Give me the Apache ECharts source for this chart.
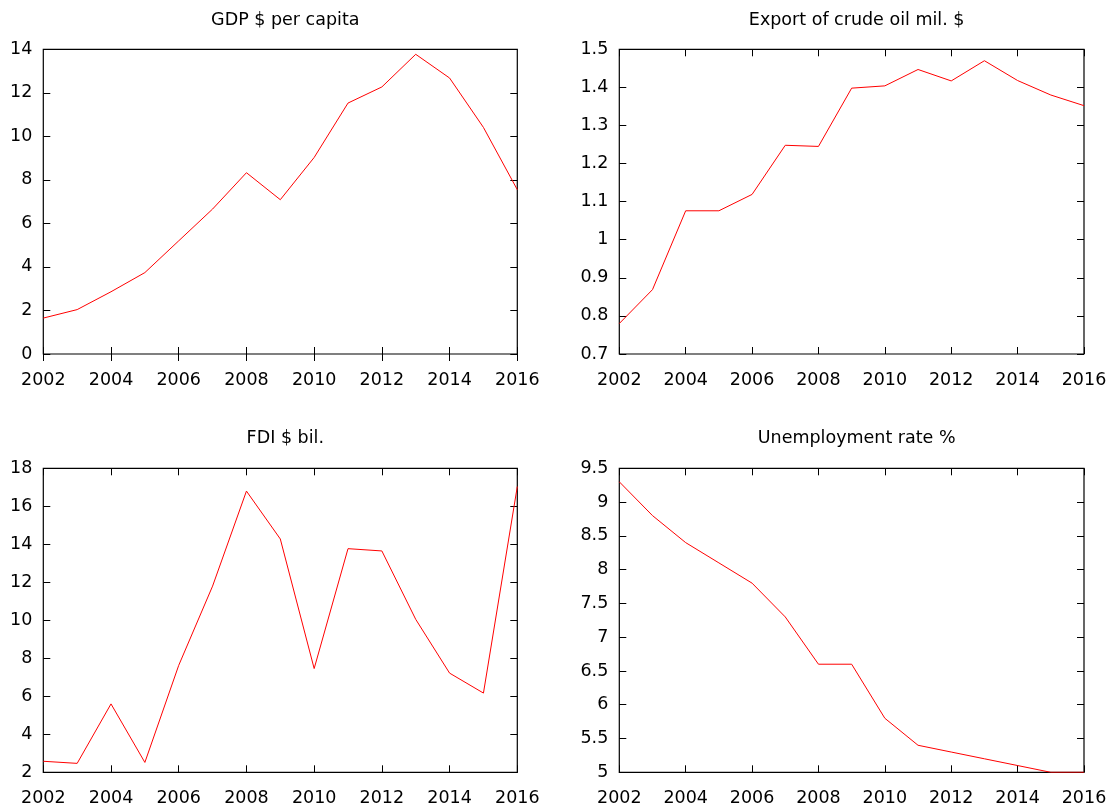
<!DOCTYPE html>
<html>
<head>
<meta charset="utf-8">
<script src="https://cdn.jsdelivr.net/npm/echarts@6/dist/echarts.min.js"></script>
<style>
html,body{margin:0;padding:0;background:#fff;}
#main{width:1119px;height:809px;}
</style>
</head>
<body>
<div id="main"></div>
<script>
var years = [2002,2003,2004,2005,2006,2007,2008,2009,2010,2011,2012,2013,2014,2015,2016];
var titles = ['GDP $ per capita','Export of crude oil mil. $','FDI $ bil.','Unemployment rate %'];
var gdp = [1.65,2.04,2.86,3.74,5.2,6.66,8.33,7.09,9.03,11.53,12.27,13.77,12.68,10.41,7.55];
var oil = [0.78,0.869,1.076,1.076,1.119,1.248,1.245,1.398,1.404,1.447,1.417,1.47,1.418,1.38,1.352];
var fdi = [2.58,2.47,5.6,2.52,7.63,11.8,16.8,14.28,7.46,13.77,13.65,10.05,7.22,6.17,17.04];
var unemp = [9.3,8.8,8.4,8.1,7.8,7.3,6.6,6.6,5.8,5.4,5.3,5.2,5.1,5.0,5.0];
var yMin = [0,0.7,2,5];
var yMax = [14,1.5,18,9.5];
var yInt = [2,0.1,2,0.5];
var seriesValues = [gdp,oil,fdi,unemp];

var FONT = 'DejaVu Sans';
var FS = 17.5;
var grids = [
  {left:43.3, top:49.3, width:474, height:304.7},
  {left:619.3, top:49.3, width:464.7, height:304.7},
  {left:43.3, top:468.3, width:474, height:304},
  {left:619.3, top:468.3, width:464.7, height:304}
];
var titleTop = [6, 6, 424, 424];

var option = {
  backgroundColor:'#fff',
  animation:false,
  title:[], grid:[], xAxis:[], yAxis:[], series:[]
};
for (var i=0;i<4;i++){
  var g = grids[i];
  option.grid.push({left:g.left, top:g.top, width:g.width, height:g.height,
    show:true, borderColor:'#000', borderWidth:1.2, backgroundColor:'transparent'});
  option.title.push({text:titles[i], left:g.left+g.width/2, top:titleTop[i], textAlign:'center',
    textStyle:{fontFamily:FONT, fontSize:FS, fontWeight:'normal', color:'#000'}});
  var tickStyle = {show:true, inside:true, length:7, lineStyle:{color:'#000', width:1}};
  option.xAxis.push({type:'value', gridIndex:i, position:'bottom', min:2002, max:2016, interval:2,
    axisLine:{show:false}, axisTick:tickStyle, splitLine:{show:false},
    axisLabel:{fontFamily:FONT, fontSize:FS, color:'#000', margin:17, formatter:function(v){return String(v);}}});
  option.xAxis.push({type:'value', gridIndex:i, position:'top', min:2002, max:2016, interval:2,
    axisLine:{show:false}, axisTick:tickStyle, splitLine:{show:false}, axisLabel:{show:false}});
  option.yAxis.push({type:'value', gridIndex:i, position:'left', min:yMin[i], max:yMax[i], interval:yInt[i],
    axisLine:{show:false}, axisTick:tickStyle, splitLine:{show:false},
    axisLabel:{fontFamily:FONT, fontSize:FS, color:'#000', margin:11}});
  option.yAxis.push({type:'value', gridIndex:i, position:'right', min:yMin[i], max:yMax[i], interval:yInt[i],
    axisLine:{show:false}, axisTick:tickStyle, splitLine:{show:false}, axisLabel:{show:false}});
  var vals = seriesValues[i];
  option.series.push({type:'line', xAxisIndex:2*i, yAxisIndex:2*i, showSymbol:false, symbol:'none',
    lineStyle:{color:'#ff0000', width:1}, itemStyle:{color:'#ff0000'},
    data: years.map(function(y,k){return [y, vals[k]];})});
}
var chart = echarts.init(document.getElementById('main'), null, {renderer:'canvas'});
chart.setOption(option);
</script>
</body>
</html>
